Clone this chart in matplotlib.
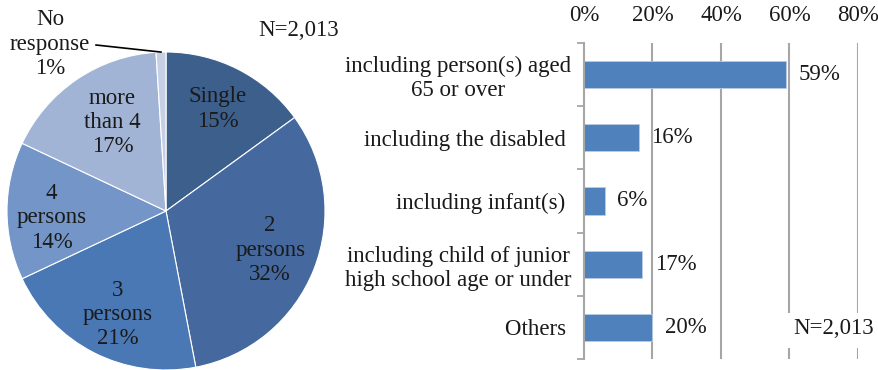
import numpy as np
import matplotlib.pyplot as plt
from matplotlib.patches import Rectangle

plt.rcParams['font.family'] = ['Liberation Serif', 'DejaVu Serif']

# household size (pie)
size_labels = ['Single', '2\npersons', '3\npersons', '4\npersons', 'more\nthan 4', 'No\nresponse']
size_pct = [15, 32, 21, 14, 17, 1]
size_colors = ['#3d5f8b', '#45699f', '#4a78b4', '#7395c7', '#a2b4d6', '#c6d0e5']

# household members (bar)
member_labels = ['including person(s) aged\n65 or over', 'including the disabled ',
                 'including infant(s) ', 'including child of junior\nhigh school age or under',
                 'Others ']
member_pct = [59, 16, 6, 17, 20]
x_ticks = [0, 20, 40, 60, 80]
n_text = 'N=2,013'

txt = '#1a1a1a'
grid = '#a6a6a6'
fs = 16.5
ls = 1.2

fig = plt.figure(figsize=(8.79, 3.70), dpi=100)

# ---- pie ----
ax1 = fig.add_axes([7 / 879, 0.0, 318 / 879, 318 / 370])
wedges, _ = ax1.pie(size_pct, colors=size_colors, startangle=90, counterclock=False,
                    radius=1.0, wedgeprops=dict(edgecolor='white', linewidth=0.8))
ax1.set_xlim(-1, 1)
ax1.set_ylim(-1, 1)
ax1.set_aspect('equal')
ax1.axis('off')

# label radius and angle nudge (degrees) per slice
label_r = [0.72, 0.70, 0.72, 0.72, 0.65]
label_da = [0, 1, 2, 3.5, -3]
for w, lab, pct, r, da in zip(wedges[:5], size_labels[:5], size_pct[:5], label_r, label_da):
    ang = np.deg2rad((w.theta1 + w.theta2) / 2 + da)
    ax1.text(r * np.cos(ang), r * np.sin(ang), f'{lab}\n{pct}%', ha='center', va='center',
             fontsize=fs, color=txt, linespacing=ls)

# small slice gets an outside label with a leader line
w = wedges[5]
ang = np.deg2rad((w.theta1 + w.theta2) / 2)
ax1.plot([np.cos(ang) * 1.0, -0.44], [np.sin(ang) * 1.0, 1.044], color='black', lw=1.2,
         clip_on=False)
ax1.text(-0.73, 1.05, f'{size_labels[5]}\n{size_pct[5]}%', ha='center', va='center',
         fontsize=fs, color=txt, linespacing=ls)
fig.text(299 / 879, 1 - 31 / 370, n_text, ha='center', va='center', fontsize=fs, color=txt)

# ---- bar ----
ax2 = fig.add_axes([584 / 879, 1 - 359 / 370, 274 / 879, 316 / 370])
ypos = np.arange(len(member_pct))
ax2.barh(ypos, member_pct, height=0.43, color='#4f81bd', edgecolor='#b8cce4',
         linewidth=0.6, zorder=3)
ax2.set_xlim(0, 80)
ax2.set_ylim(len(member_pct) - 0.5, -0.5)

ax2.xaxis.tick_top()
ax2.set_xticks(x_ticks, [f'{t}%' for t in x_ticks])
ax2.tick_params(axis='x', length=0, pad=12, labelsize=fs, labelcolor=txt)
ax2.set_yticks(ypos, member_labels)
ax2.set_yticks(np.arange(len(member_pct) + 1) - 0.5, minor=True)
ax2.tick_params(axis='y', which='major', length=0, pad=9, labelsize=fs, labelcolor=txt)
ax2.tick_params(axis='y', which='minor', length=5, width=1.3, color=grid)
for lab in ax2.get_yticklabels():
    lab.set_multialignment('center')
    lab.set_linespacing(ls)

for t in x_ticks[1:]:
    ax2.axvline(t, color=grid, lw=1.5, zorder=1)
for s in ['top', 'right', 'bottom']:
    ax2.spines[s].set_visible(False)
ax2.spines['left'].set_color(grid)
ax2.spines['left'].set_linewidth(1.5)
ax2.spines['left'].set_zorder(4)

for y, v in zip(ypos, member_pct):
    ax2.annotate(f'{v}%', (v, y), xytext=(9, 0), textcoords='offset points',
                 ha='left', va='center', fontsize=fs, color=txt)

ax2.add_patch(Rectangle((0.645, 0.035), 0.36, 0.11, transform=ax2.transAxes,
                        facecolor='white', edgecolor='none', zorder=2, clip_on=False))
ax2.text(0.91, 0.095, n_text, transform=ax2.transAxes, ha='center', va='center',
         fontsize=fs, color=txt, zorder=5)

fig.savefig('out.png', dpi=100)
